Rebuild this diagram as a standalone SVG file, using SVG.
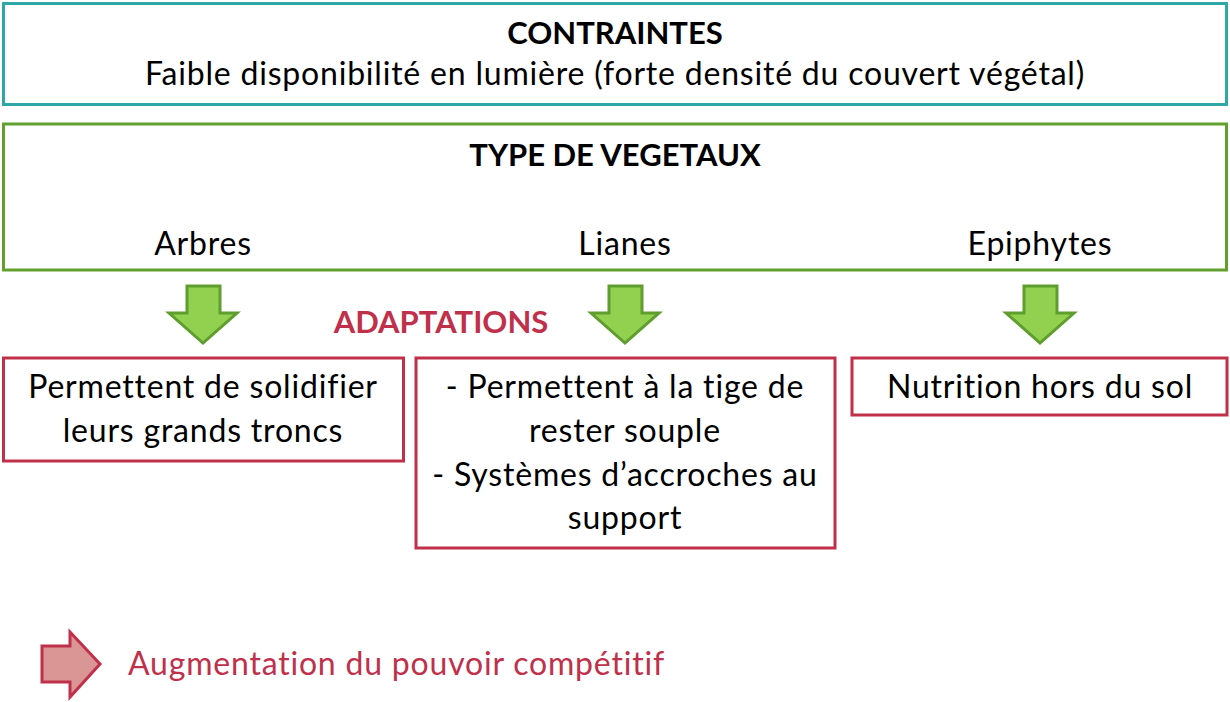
<svg xmlns="http://www.w3.org/2000/svg" width="1230" height="702" viewBox="0 0 1230 702">
<style>
text{font-family:Lato,"Open Sans","Liberation Sans",sans-serif;font-size:32px;letter-spacing:0.8px;fill:#000;text-anchor:middle}
.b{font-weight:bold;font-size:31px;letter-spacing:0}
.red{fill:#C0304A}
.teal{fill:none;stroke:#2EA8A6;stroke-width:3}
.green{fill:none;stroke:#62A02E;stroke-width:3}
.rbox{fill:none;stroke:#C0304A;stroke-width:3}
.garrow{fill:#92D050;stroke:#5F9E2E;stroke-width:3;stroke-linejoin:miter}
.parrow{fill:#D99694;stroke:#C0304A;stroke-width:3}
</style>
<defs>
<path id="ga" d="M-16,0 H17 V27 H34 L0,57 L-34,27 H-16 Z"/>
</defs>
<g id="contraintes">
<rect class="teal" x="3.5" y="3.5" width="1223" height="101"/>
<text class="b" x="615" y="44">CONTRAINTES</text>
<text x="615" y="85">Faible disponibilité en lumière (forte densité du couvert végétal)</text>
</g>
<g id="type-vegetaux">
<rect class="green" x="3.5" y="124" width="1223" height="146"/>
<text class="b" x="615" y="166">TYPE DE VEGETAUX</text>
<text x="203" y="255">Arbres</text>
<text x="625" y="255">Lianes</text>
<text x="1040" y="255">Epiphytes</text>
</g>
<g id="connectors">
<use href="#ga" class="garrow" x="203" y="286"/>
<use href="#ga" class="garrow" x="625" y="286"/>
<use href="#ga" class="garrow" x="1040" y="286"/>
</g>
<g id="adaptations-label">
<text class="b red" x="441" y="333">ADAPTATIONS</text>
</g>
<g id="arbres-adapt">
<rect class="rbox" x="3.5" y="358" width="400" height="103"/>
<text x="203" y="398">Permettent de solidifier</text>
<text x="203" y="442">leurs grands troncs</text>
</g>
<g id="lianes-adapt">
<rect class="rbox" x="416" y="358" width="419" height="190"/>
<text x="625" y="398">- Permettent à la tige de</text>
<text x="625" y="442">rester souple</text>
<text x="625" y="486">- Systèmes d’accroches au</text>
<text x="625" y="529">support</text>
</g>
<g id="epiphytes-adapt">
<rect class="rbox" x="852" y="358" width="375" height="57"/>
<text x="1040" y="398">Nutrition hors du sol</text>
</g>
<g id="legend">
<path class="parrow" d="M42,646 H70 V632 L100,664 L70,697 V682 H42 Z"/>
<text class="red" x="128" y="675" style="text-anchor:start">Augmentation du pouvoir compétitif</text>
</g>
</svg>
